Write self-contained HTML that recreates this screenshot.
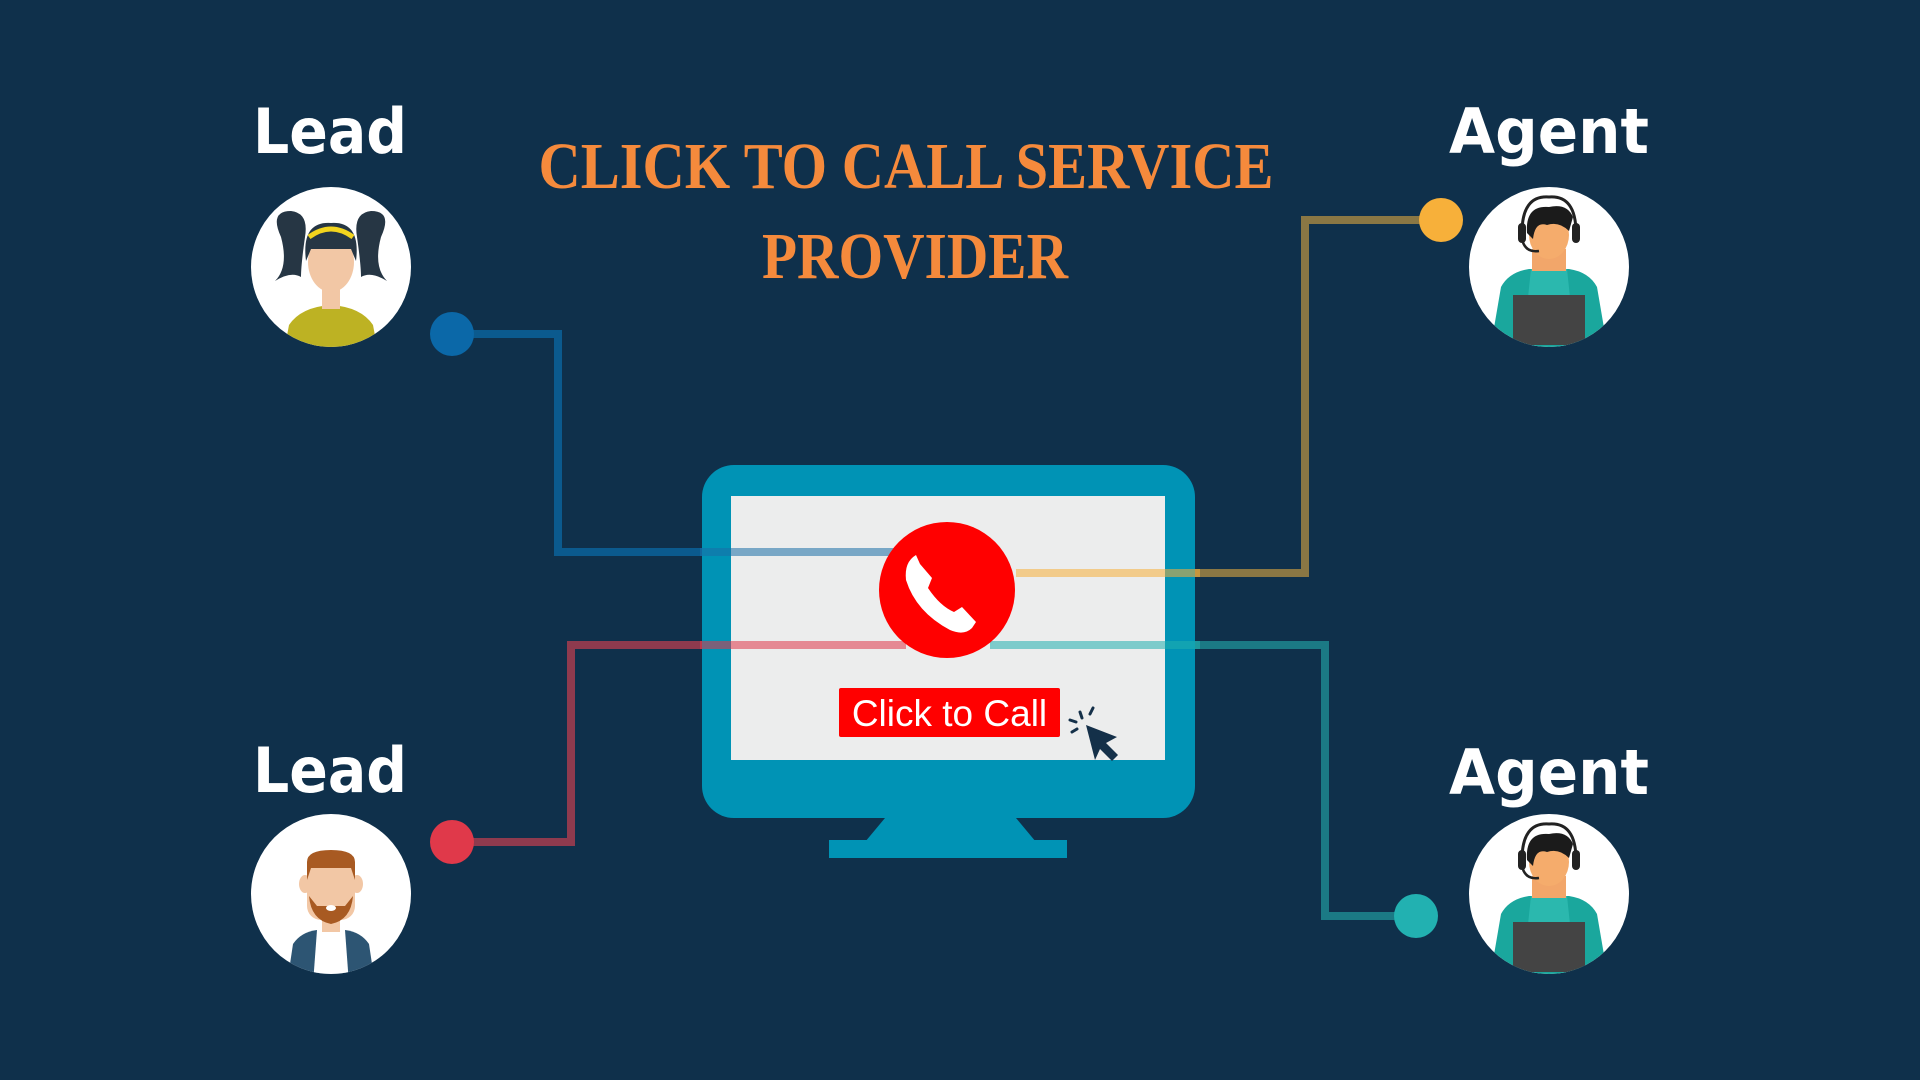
<!DOCTYPE html>
<html><head><meta charset="utf-8"><style>
html,body{margin:0;padding:0;background:#0f304b;}
svg{display:block}
</style></head><body>
<svg width="1920" height="1080" viewBox="0 0 1920 1080" xmlns="http://www.w3.org/2000/svg">
<defs>
<clipPath id="cc"><circle cx="0" cy="0" r="80"/></clipPath>
<g id="agent">
  <circle r="80" fill="#fff"/>
  <g clip-path="url(#cc)">
    <path d="M-60 90 L-48 20 Q-40 5 -20 2 L20 2 Q40 5 48 20 L60 90 Z" fill="#1aa79d"/>
    <path d="M-18 2 L-22 40 L22 40 L18 2 Z" fill="#2bb8ae"/>
    <rect x="-17" y="-18" width="34" height="22" fill="#f2a66a"/>
    <ellipse cx="0" cy="-32" rx="20" ry="24" fill="#f5ac6c"/>
    <path d="M-22 -34 Q-24 -62 0 -60 Q18 -64 24 -50 L20 -36 Q10 -46 -2 -42 Q-14 -46 -16 -28 Z" fill="#1b1b1b"/>
    <path d="M-27 -34 Q-27 -72 0 -70 Q27 -72 27 -34" fill="none" stroke="#222" stroke-width="3"/>
    <rect x="-31" y="-44" width="8" height="20" rx="4" fill="#222"/>
    <rect x="23" y="-44" width="8" height="20" rx="4" fill="#222"/>
    <path d="M-27 -28 Q-24 -14 -10 -16" fill="none" stroke="#222" stroke-width="2.5"/>
    <rect x="-36" y="28" width="72" height="50" fill="#444"/>
  </g>
</g>
</defs>

<!-- title -->
<g font-family="Liberation Serif, serif" font-weight="bold" fill="#f58a3c" text-anchor="middle" font-size="66">
<text x="906" y="188" textLength="735" lengthAdjust="spacingAndGlyphs">CLICK TO CALL SERVICE</text>
<text x="915" y="278" textLength="306" lengthAdjust="spacingAndGlyphs">PROVIDER</text>
</g>

<!-- labels -->
<g font-family="DejaVu Sans, Liberation Sans, sans-serif" font-weight="bold" fill="#fff" font-size="62">
<text x="253" y="153" textLength="154" lengthAdjust="spacingAndGlyphs">Lead</text>
<text x="253" y="792" textLength="154" lengthAdjust="spacingAndGlyphs">Lead</text>
<text x="1449" y="153" textLength="200" lengthAdjust="spacingAndGlyphs">Agent</text>
<text x="1449" y="794" textLength="200" lengthAdjust="spacingAndGlyphs">Agent</text>
</g>

<!-- connectors -->
<g fill="none" stroke-width="8">
<polyline points="452,334 558,334 558,552 900,552" stroke="#0b5a8e"/>
<polyline points="1441,220 1305,220 1305,573 1016,573" stroke="#8a7744"/>
<polyline points="452,842 571,842 571,645 906,645" stroke="#8e3a4e"/>
<polyline points="1416,916 1325,916 1325,645 990,645" stroke="#1b7a85"/>
</g>
<circle cx="452" cy="334" r="22" fill="#0b68a8"/>
<circle cx="452" cy="842" r="22" fill="#e0394a"/>
<circle cx="1441" cy="220" r="22" fill="#f7b03a"/>
<circle cx="1416" cy="916" r="22" fill="#22b1b1"/>

<!-- monitor -->
<path d="M885 818 L1016 818 L1036 842 L865 842 Z" fill="#0093b5"/>
<rect x="829" y="840" width="238" height="18" fill="#0093b5"/>
<rect x="702" y="465" width="493" height="353" rx="32" fill="#0093b5"/>
<rect x="731" y="496" width="434" height="264" fill="#eceded"/>
<!-- lines over monitor, faded -->
<g stroke-width="8" opacity="0.55">
<line x1="700" y1="552" x2="900" y2="552" stroke="#1a6ea8"/>
<line x1="1016" y1="573" x2="1200" y2="573" stroke="#f7b03a"/>
<line x1="700" y1="645" x2="906" y2="645" stroke="#e0394a"/>
<line x1="990" y1="645" x2="1200" y2="645" stroke="#22b1b1"/>
</g>
<!-- phone -->
<circle cx="947" cy="590" r="68" fill="#ff0000"/>
<path d="M916 555 Q904 562 906 580 Q916 612 950 630 Q964 636 972 628 L976 622 L962 607 L954 612 Q940 606 928 588 L932 578 L920 564 Z" fill="#fff" transform="translate(0,0) rotate(0)"/>
<!-- button -->
<rect x="839" y="688" width="221" height="49" rx="2" fill="#ff0000"/>
<text x="949.5" y="726" text-anchor="middle" font-family="Liberation Sans, sans-serif" font-size="37" fill="#fff">Click to Call</text>
<!-- cursor -->
<path d="M1086 725 L1117 737 L1106 743 L1118 755 L1112 761 L1100 749 L1095 760 Z" fill="#143049"/>
<g stroke="#143049" stroke-width="3" stroke-linecap="round">
<line x1="1080" y1="712" x2="1082" y2="718"/>
<line x1="1070" y1="720" x2="1076" y2="722"/>
<line x1="1072" y1="732" x2="1077" y2="729"/>
<line x1="1093" y1="708" x2="1090" y2="714"/>
</g>

<!-- lead 1 girl -->
<g transform="translate(331,267)">
  <circle r="80" fill="#fff"/>
  <g clip-path="url(#cc)">
    <path d="M-42 58 Q-30 40 0 38 Q30 40 42 58 L48 90 L-48 90 Z" fill="#bdb223"/>
    <rect x="-9" y="18" width="18" height="24" fill="#f2c7a5"/>
    <path d="M-50 -30 Q-62 -56 -40 -56 Q-22 -54 -26 -30 Q-30 -2 -30 10 Q-40 4 -56 14 Q-42 0 -50 -30 Z" fill="#263644"/>
    <path d="M50 -30 Q62 -56 40 -56 Q22 -54 26 -30 Q30 -2 30 10 Q40 4 56 14 Q42 0 50 -30 Z" fill="#263644"/>
    <ellipse cx="0" cy="-5" rx="23" ry="30" fill="#f2c7a5"/>
    <path d="M-25 -6 Q-30 -46 0 -44 Q30 -46 25 -6 L20 -18 L-20 -18 Z" fill="#263644"/>
    <path d="M-22 -30 Q0 -46 22 -30" fill="none" stroke="#f2d41e" stroke-width="5"/>
  </g>
</g>

<!-- lead 2 man -->
<g transform="translate(331,894)">
  <circle r="80" fill="#fff"/>
  <g clip-path="url(#cc)">
    <path d="M-44 90 L-38 50 Q-30 38 -14 36 L14 36 Q30 38 38 50 L44 90 Z" fill="#2d5573"/>
    <path d="M-14 36 L14 36 L18 90 L-18 90 Z" fill="#fff"/>
    <rect x="-9" y="18" width="18" height="20" fill="#f2c7a5"/>
    <ellipse cx="-26" cy="-10" rx="6" ry="9" fill="#f2c7a5"/>
    <ellipse cx="26" cy="-10" rx="6" ry="9" fill="#f2c7a5"/>
    <rect x="-24" y="-34" width="48" height="60" rx="14" fill="#f2c7a5"/>
    <path d="M-24 -14 L-24 -32 Q-24 -44 0 -44 Q24 -44 24 -32 L24 -14 L20 -26 L-20 -26 Z" fill="#a85a22"/>
    <path d="M-22 2 Q-20 26 0 30 Q20 26 22 2 L14 12 L-14 12 Z" fill="#a85a22"/>
    <ellipse cx="0" cy="14" rx="5" ry="3" fill="#fff"/>
  </g>
</g>

<use href="#agent" x="1549" y="267"/>
<use href="#agent" x="1549" y="894"/>
</svg>
</body></html>
